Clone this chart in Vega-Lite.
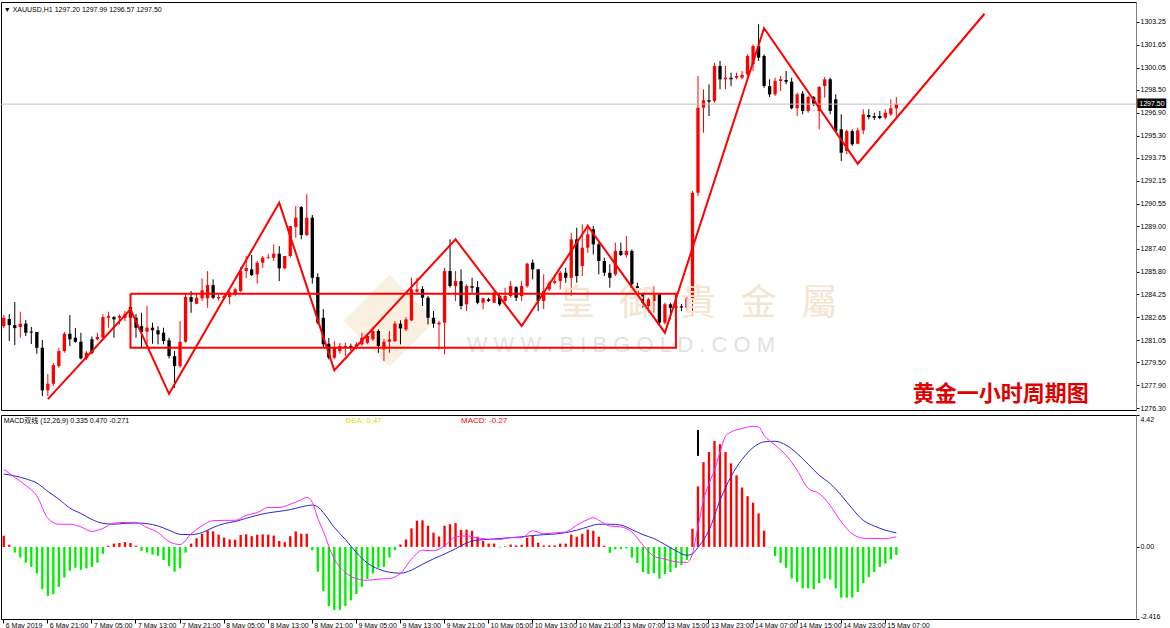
{
"$schema": "https://vega.github.io/schema/vega-lite/v6.json",
"background": "white",
"padding": {"left": 0, "top": 1, "right": 0, "bottom": 0},
"spacing": 2,
"config": {"view": {"stroke": "#000000", "strokeWidth": 1}, "axis": {"labelFont": "Liberation Sans", "labelFontSize": 7, "labelColor": "#000000", "labelOverlap": false}},
"resolve": {"scale": {"x": "shared"}},
"datasets": {
"bars": [
{"t":"6 May 13:00","o":1282.02,"h":1282.79,"l":1281.88,"c":1282.6,"m":0.37,"dif":2.6,"dea":2.44},
{"t":"6 May 14:00","o":1282.51,"h":1282.86,"l":1280.98,"c":1282.09,"m":0.07},
{"t":"6 May 15:00","o":1282.09,"h":1283.7,"l":1280.7,"c":1281.88,"m":-0.19,"dif":2.33,"dea":2.38},
{"t":"6 May 16:00","o":1281.95,"h":1283.02,"l":1281.21,"c":1282.19,"m":-0.36},
{"t":"6 May 17:00","o":1282.19,"h":1282.44,"l":1281.33,"c":1281.56,"m":-0.53,"dif":2.06,"dea":2.28},
{"t":"6 May 18:00","o":1281.64,"h":1281.96,"l":1280.77,"c":1281.57,"m":-0.67},
{"t":"6 May 19:00","o":1281.61,"h":1281.61,"l":1280.09,"c":1280.51,"m":-0.89,"dif":1.71,"dea":2.14},
{"t":"6 May 20:00","o":1280.51,"h":1281.05,"l":1277.14,"c":1277.54,"m":-1.42},
{"t":"6 May 21:00","o":1277.54,"h":1278.68,"l":1277.14,"c":1278.0,"m":-1.64,"dif":0.96,"dea":1.86},
{"t":"6 May 22:00","o":1278.0,"h":1279.46,"l":1277.84,"c":1279.3,"m":-1.58},
{"t":"6 May 23:00","o":1279.23,"h":1280.51,"l":1279.12,"c":1280.28,"m":-1.34,"dif":0.76,"dea":1.6},
{"t":"7 May 00:00","o":1280.28,"h":1281.61,"l":1280.16,"c":1281.49,"m":-1.03},
{"t":"7 May 01:00","o":1281.49,"h":1282.79,"l":1280.63,"c":1281.1,"m":-0.8,"dif":0.76,"dea":1.3},
{"t":"7 May 02:00","o":1281.21,"h":1281.88,"l":1280.86,"c":1280.93,"m":-0.7},
{"t":"7 May 03:00","o":1280.93,"h":1281.56,"l":1279.7,"c":1279.77,"m":-0.77,"dif":0.67,"dea":1.12},
{"t":"7 May 04:00","o":1279.77,"h":1280.28,"l":1279.65,"c":1280.16,"m":-0.72},
{"t":"7 May 05:00","o":1281.1,"h":1281.3,"l":1280.05,"c":1280.16,"m":-0.67,"dif":0.52,"dea":0.92},
{"t":"7 May 06:00","o":1281.1,"h":1281.56,"l":1281.03,"c":1281.26,"m":-0.53},
{"t":"7 May 07:00","o":1281.21,"h":1282.84,"l":1281.19,"c":1282.65,"m":-0.23,"dif":0.62,"dea":0.79},
{"t":"7 May 08:00","o":1282.6,"h":1283.02,"l":1281.91,"c":1282.72,"m":0.04},
{"t":"7 May 09:00","o":1282.65,"h":1282.72,"l":1281.21,"c":1282.49,"m":0.11,"dif":0.8,"dea":0.76},
{"t":"7 May 10:00","o":1282.6,"h":1282.84,"l":1282.14,"c":1282.72,"m":0.13},
{"t":"7 May 11:00","o":1282.6,"h":1283.07,"l":1282.37,"c":1282.88,"m":0.16,"dif":0.82,"dea":0.79},
{"t":"7 May 12:00","o":1283.35,"h":1283.56,"l":1282.51,"c":1282.6,"m":0.13},
{"t":"7 May 13:00","o":1282.6,"h":1282.86,"l":1281.21,"c":1281.91,"m":0.04,"dif":0.82,"dea":0.8},
{"t":"7 May 14:00","o":1282.02,"h":1282.95,"l":1280.51,"c":1281.61,"m":-0.13},
{"t":"7 May 15:00","o":1281.63,"h":1283.42,"l":1280.75,"c":1281.91,"m":-0.19,"dif":0.65,"dea":0.78},
{"t":"7 May 16:00","o":1281.91,"h":1282.26,"l":1280.79,"c":1281.73,"m":-0.26},
{"t":"7 May 17:00","o":1281.73,"h":1282.02,"l":1280.75,"c":1281.45,"m":-0.3,"dif":0.48,"dea":0.7},
{"t":"7 May 18:00","o":1281.56,"h":1281.91,"l":1280.75,"c":1280.98,"m":-0.44},
{"t":"7 May 19:00","o":1281.03,"h":1281.21,"l":1279.77,"c":1279.93,"m":-0.64,"dif":0.18,"dea":0.56},
{"t":"7 May 20:00","o":1279.93,"h":1280.28,"l":1277.72,"c":1279.23,"m":-0.83},
{"t":"7 May 21:00","o":1279.23,"h":1282.37,"l":1279.12,"c":1280.93,"m":-0.72,"dif":0.08,"dea":0.42},
{"t":"7 May 22:00","o":1280.93,"h":1284.24,"l":1280.86,"c":1284.05,"m":-0.19},
{"t":"7 May 23:00","o":1284.05,"h":1284.47,"l":1282.95,"c":1283.72,"m":0.11,"dif":0.44,"dea":0.41},
{"t":"8 May 00:00","o":1283.58,"h":1284.35,"l":1283.54,"c":1284.0,"m":0.29},
{"t":"8 May 01:00","o":1283.96,"h":1285.35,"l":1283.77,"c":1284.51,"m":0.44,"dif":0.71,"dea":0.48},
{"t":"8 May 02:00","o":1283.96,"h":1285.86,"l":1283.3,"c":1284.88,"m":0.56},
{"t":"8 May 03:00","o":1284.88,"h":1285.28,"l":1283.9,"c":1284.0,"m":0.52,"dif":0.88,"dea":0.65},
{"t":"8 May 04:00","o":1283.96,"h":1284.2,"l":1283.8,"c":1284.05,"m":0.41},
{"t":"8 May 05:00","o":1283.96,"h":1284.3,"l":1283.9,"c":1284.12,"m":0.31,"dif":0.89,"dea":0.78},
{"t":"8 May 06:00","o":1284.05,"h":1284.47,"l":1283.54,"c":1284.35,"m":0.25},
{"t":"8 May 07:00","o":1284.24,"h":1284.7,"l":1284.1,"c":1284.58,"m":0.24,"dif":0.89,"dea":0.85},
{"t":"8 May 08:00","o":1284.47,"h":1286.14,"l":1284.4,"c":1285.86,"m":0.4},
{"t":"8 May 09:00","o":1285.86,"h":1286.91,"l":1285.37,"c":1286.07,"m":0.42,"dif":1.06,"dea":0.96},
{"t":"8 May 10:00","o":1285.98,"h":1286.98,"l":1285.51,"c":1285.58,"m":0.36},
{"t":"8 May 11:00","o":1285.63,"h":1286.56,"l":1284.98,"c":1286.44,"m":0.41,"dif":1.15,"dea":1.06},
{"t":"8 May 12:00","o":1286.44,"h":1286.91,"l":1286.09,"c":1286.79,"m":0.42},
{"t":"8 May 13:00","o":1286.79,"h":1287.05,"l":1286.7,"c":1286.84,"m":0.41,"dif":1.32,"dea":1.14},
{"t":"8 May 14:00","o":1286.79,"h":1287.72,"l":1286.56,"c":1287.07,"m":0.38},
{"t":"8 May 15:00","o":1287.07,"h":1287.6,"l":1285.16,"c":1286.05,"m":0.2,"dif":1.32,"dea":1.19},
{"t":"8 May 16:00","o":1286.05,"h":1286.91,"l":1285.98,"c":1286.91,"m":0.16},
{"t":"8 May 17:00","o":1286.91,"h":1289.0,"l":1286.79,"c":1289.0,"m":0.36,"dif":1.43,"dea":1.25},
{"t":"8 May 18:00","o":1288.93,"h":1290.39,"l":1288.18,"c":1289.58,"m":0.52},
{"t":"8 May 19:00","o":1290.32,"h":1290.39,"l":1288.07,"c":1288.37,"m":0.44,"dif":1.58,"dea":1.34},
{"t":"8 May 20:00","o":1288.37,"h":1291.21,"l":1288.3,"c":1289.58,"m":0.44,"dif":1.66},
{"t":"8 May 21:00","o":1289.58,"h":1289.77,"l":1284.98,"c":1285.39,"m":-0.11,"dif":1.49,"dea":1.4},
{"t":"8 May 22:00","o":1285.44,"h":1285.7,"l":1282.14,"c":1282.26,"m":-0.83,"dif":0.96,"dea":1.34},
{"t":"8 May 23:00","o":1282.6,"h":1283.21,"l":1280.51,"c":1280.75,"m":-1.48,"dif":0.52,"dea":1.15},
{"t":"9 May 00:00","o":1280.79,"h":1281.19,"l":1279.7,"c":1279.82,"m":-1.98},
{"t":"9 May 01:00","o":1279.82,"h":1280.98,"l":1279.7,"c":1280.51,"m":-2.11,"dif":-0.41,"dea":0.65},
{"t":"9 May 02:00","o":1280.28,"h":1280.84,"l":1280.1,"c":1280.63,"m":-2.11},
{"t":"9 May 03:00","o":1280.51,"h":1280.86,"l":1279.93,"c":1280.63,"m":-1.98,"dif":-0.86,"dea":0.25},
{"t":"9 May 04:00","o":1280.63,"h":1280.8,"l":1280.3,"c":1280.51,"m":-1.79},
{"t":"9 May 05:00","o":1280.63,"h":1280.9,"l":1280.4,"c":1280.75,"m":-1.58,"dif":-1.06,"dea":-0.19},
{"t":"9 May 06:00","o":1280.75,"h":1281.56,"l":1280.63,"c":1281.21,"m":-1.34},
{"t":"9 May 07:00","o":1280.86,"h":1281.54,"l":1280.77,"c":1281.33,"m":-1.08,"dif":-1.12,"dea":-0.54},
{"t":"9 May 08:00","o":1281.1,"h":1281.91,"l":1280.98,"c":1281.68,"m":-0.89},
{"t":"9 May 09:00","o":1281.68,"h":1281.79,"l":1280.16,"c":1280.63,"m":-0.7,"dif":-1.08,"dea":-0.74},
{"t":"9 May 10:00","o":1280.4,"h":1281.12,"l":1279.58,"c":1280.93,"m":-0.67},
{"t":"9 May 11:00","o":1280.93,"h":1281.68,"l":1280.16,"c":1281.1,"m":-0.36,"dif":-1.06,"dea":-0.85},
{"t":"9 May 12:00","o":1280.98,"h":1282.37,"l":1280.91,"c":1282.19,"m":-0.11},
{"t":"9 May 13:00","o":1282.19,"h":1282.42,"l":1280.75,"c":1281.86,"m":0.08,"dif":-0.89,"dea":-0.88},
{"t":"9 May 14:00","o":1281.79,"h":1282.65,"l":1281.68,"c":1282.49,"m":0.25},
{"t":"9 May 15:00","o":1282.42,"h":1285.39,"l":1282.37,"c":1284.58,"m":0.62,"dif":-0.41,"dea":-0.78},
{"t":"9 May 16:00","o":1284.42,"h":1285.39,"l":1284.35,"c":1284.58,"m":0.88},
{"t":"9 May 17:00","o":1284.61,"h":1284.81,"l":1283.42,"c":1284.0,"m":0.89,"dif":-0.11,"dea":-0.58},
{"t":"9 May 18:00","o":1284.0,"h":1284.12,"l":1282.14,"c":1282.6,"m":0.71},
{"t":"9 May 19:00","o":1282.6,"h":1283.07,"l":1281.91,"c":1282.19,"m":0.48,"dif":-0.13,"dea":-0.4},
{"t":"9 May 20:00","o":1282.14,"h":1282.37,"l":1280.4,"c":1282.26,"m":0.35},
{"t":"9 May 21:00","o":1282.26,"h":1286.09,"l":1280.05,"c":1285.86,"m":0.71,"dif":0.04,"dea":-0.24},
{"t":"9 May 22:00","o":1285.86,"h":1288.07,"l":1284.7,"c":1284.81,"m":0.76},
{"t":"9 May 23:00","o":1284.81,"h":1285.86,"l":1283.77,"c":1285.16,"m":0.8,"dif":0.33,"dea":-0.06},
{"t":"10 May 00:00","o":1285.16,"h":1285.98,"l":1283.19,"c":1283.42,"m":0.57},
{"t":"10 May 01:00","o":1283.54,"h":1284.93,"l":1283.07,"c":1284.81,"m":0.58,"dif":0.37,"dea":0.13},
{"t":"10 May 02:00","o":1284.81,"h":1285.39,"l":1284.35,"c":1284.7,"m":0.54},
{"t":"10 May 03:00","o":1284.74,"h":1285.16,"l":1283.54,"c":1283.65,"m":0.34,"dif":0.3,"dea":0.23},
{"t":"10 May 04:00","o":1283.65,"h":1284.0,"l":1283.19,"c":1283.96,"m":0.2},
{"t":"10 May 05:00","o":1283.89,"h":1284.0,"l":1283.7,"c":1283.77,"m":0.11,"dif":0.26,"dea":0.25},
{"t":"10 May 06:00","o":1283.65,"h":1284.47,"l":1283.63,"c":1284.35,"m":0.11},
{"t":"10 May 07:00","o":1284.12,"h":1284.35,"l":1283.42,"c":1283.54,"m":-0.02,"dif":0.25,"dea":0.28},
{"t":"10 May 08:00","o":1283.77,"h":1284.7,"l":1283.65,"c":1284.12,"m":0.02},
{"t":"10 May 09:00","o":1284.12,"h":1285.16,"l":1284.0,"c":1284.81,"m":0.08,"dif":0.31,"dea":0.31},
{"t":"10 May 10:00","o":1284.74,"h":1284.81,"l":1283.77,"c":1284.0,"m":0.05},
{"t":"10 May 11:00","o":1284.12,"h":1285.16,"l":1283.77,"c":1284.81,"m":0.07,"dif":0.31,"dea":0.34},
{"t":"10 May 12:00","o":1284.81,"h":1286.44,"l":1284.7,"c":1286.37,"m":0.31},
{"t":"10 May 13:00","o":1286.44,"h":1286.67,"l":1285.28,"c":1285.98,"m":0.38,"dif":0.54,"dea":0.38},
{"t":"10 May 14:00","o":1285.98,"h":1285.98,"l":1283.07,"c":1283.77,"m":0.14},
{"t":"10 May 15:00","o":1283.77,"h":1285.63,"l":1283.19,"c":1284.47,"m":0.05,"dif":0.44,"dea":0.41},
{"t":"10 May 16:00","o":1284.58,"h":1285.16,"l":1284.47,"c":1285.04,"m":0.05},
{"t":"10 May 17:00","o":1285.04,"h":1285.63,"l":1284.93,"c":1285.16,"m":0.05,"dif":0.47,"dea":0.43},
{"t":"10 May 18:00","o":1285.16,"h":1285.86,"l":1284.58,"c":1285.74,"m":0.11},
{"t":"10 May 19:00","o":1285.74,"h":1286.09,"l":1285.04,"c":1285.39,"m":0.11,"dif":0.5,"dea":0.48},
{"t":"10 May 20:00","o":1285.39,"h":1288.53,"l":1284.12,"c":1288.07,"m":0.41},
{"t":"10 May 21:00","o":1288.07,"h":1288.88,"l":1285.04,"c":1285.51,"m":0.34,"dif":0.73,"dea":0.56},
{"t":"10 May 22:00","o":1286.21,"h":1289.12,"l":1285.51,"c":1287.49,"m":0.44},
{"t":"13 May 01:00","o":1287.49,"h":1289.12,"l":1287.12,"c":1288.42,"m":0.58,"dif":0.92,"dea":0.67},
{"t":"13 May 02:00","o":1288.77,"h":1289.0,"l":1287.02,"c":1287.72,"m":0.54,"dif":0.98},
{"t":"13 May 03:00","o":1287.72,"h":1287.84,"l":1285.63,"c":1286.56,"m":0.34,"dif":0.89,"dea":0.76},
{"t":"13 May 04:00","o":1286.56,"h":1286.79,"l":1285.51,"c":1285.74,"m":0.04},
{"t":"13 May 05:00","o":1285.74,"h":1286.33,"l":1284.7,"c":1285.39,"m":-0.2,"dif":0.7,"dea":0.76},
{"t":"13 May 06:00","o":1285.63,"h":1287.84,"l":1285.51,"c":1287.26,"m":-0.08},
{"t":"13 May 07:00","o":1287.26,"h":1287.84,"l":1286.91,"c":1286.98,"m":-0.07,"dif":0.67,"dea":0.73},
{"t":"13 May 08:00","o":1286.98,"h":1288.3,"l":1286.79,"c":1287.26,"m":-0.05},
{"t":"13 May 09:00","o":1287.26,"h":1287.37,"l":1284.47,"c":1284.7,"m":-0.36,"dif":0.5,"dea":0.58},
{"t":"13 May 10:00","o":1284.81,"h":1285.05,"l":1283.65,"c":1284.35,"m":-0.54},
{"t":"13 May 11:00","o":1284.24,"h":1284.35,"l":1283.3,"c":1283.65,"m":-0.84,"dif":0.06,"dea":0.41},
{"t":"13 May 12:00","o":1283.42,"h":1284.0,"l":1282.95,"c":1283.89,"m":-0.91},
{"t":"13 May 13:00","o":1283.77,"h":1284.81,"l":1282.95,"c":1284.24,"m":-0.88,"dif":-0.31,"dea":0.28},
{"t":"13 May 14:00","o":1284.24,"h":1284.24,"l":1282.14,"c":1282.26,"m":-1.06},
{"t":"13 May 15:00","o":1282.26,"h":1283.65,"l":1282.14,"c":1283.54,"m":-0.91,"dif":-0.41,"dea":0.08},
{"t":"13 May 16:00","o":1283.54,"h":1283.65,"l":1282.49,"c":1283.3,"m":-0.84},
{"t":"13 May 17:00","o":1283.4,"h":1283.77,"l":1282.14,"c":1283.3,"m":-0.7,"dif":-0.5,"dea":-0.13},
{"t":"13 May 18:00","o":1283.4,"h":1283.56,"l":1283.07,"c":1283.31,"m":-0.61},
{"t":"13 May 19:00","o":1283.3,"h":1284.12,"l":1283.07,"c":1283.96,"m":-0.44,"dif":-0.52,"dea":-0.28},
{"t":"13 May 20:00","o":1283.96,"h":1291.44,"l":1282.72,"c":1291.32,"m":0.61,"dif":-0.23,"dea":-0.23},
{"t":"13 May 21:00","o":1291.32,"h":1299.46,"l":1291.09,"c":1297.25,"m":2.03,"dif":0.67,"dea":-0.02},
{"t":"13 May 22:00","o":1297.25,"h":1298.53,"l":1295.51,"c":1297.77,"m":2.84,"dif":1.56},
{"t":"13 May 23:00","o":1297.77,"h":1298.88,"l":1296.67,"c":1297.67,"m":3.18,"dif":2.12,"dea":0.56},
{"t":"14 May 00:00","o":1297.72,"h":1300.39,"l":1297.6,"c":1300.16,"m":3.55,"dif":2.57},
{"t":"14 May 01:00","o":1300.16,"h":1300.51,"l":1298.53,"c":1299.23,"m":3.44,"dif":3.18,"dea":1.56},
{"t":"14 May 02:00","o":1299.23,"h":1300.16,"l":1298.53,"c":1299.34,"m":3.18,"dif":3.71},
{"t":"14 May 03:00","o":1299.34,"h":1299.69,"l":1298.76,"c":1299.23,"m":2.8,"dif":3.85,"dea":2.36},
{"t":"14 May 04:00","o":1299.34,"h":1299.69,"l":1299.23,"c":1299.46,"m":2.4},
{"t":"14 May 05:00","o":1299.34,"h":1299.81,"l":1299.23,"c":1299.53,"m":1.99,"dif":3.97,"dea":2.93},
{"t":"14 May 06:00","o":1299.58,"h":1300.97,"l":1299.46,"c":1300.86,"m":1.7},
{"t":"14 May 07:00","o":1300.28,"h":1301.67,"l":1299.81,"c":1301.55,"m":1.48,"dif":4.04,"dea":3.33},
{"t":"14 May 08:00","o":1301.55,"h":1303.07,"l":1300.51,"c":1300.74,"m":1.12,"dif":4.02},
{"t":"14 May 09:00","o":1300.86,"h":1300.97,"l":1298.64,"c":1298.76,"m":0.54,"dif":3.74,"dea":3.52},
{"t":"14 May 10:00","o":1298.76,"h":1299.23,"l":1297.99,"c":1298.18,"m":-0.02},
{"t":"14 May 11:00","o":1298.18,"h":1299.34,"l":1298.07,"c":1299.11,"m":-0.31,"dif":3.41,"dea":3.54},
{"t":"14 May 12:00","o":1299.11,"h":1299.46,"l":1298.41,"c":1299.23,"m":-0.54},
{"t":"14 May 13:00","o":1299.18,"h":1299.81,"l":1298.88,"c":1299.06,"m":-0.7,"dif":3.07,"dea":3.41},
{"t":"14 May 14:00","o":1299.06,"h":1299.34,"l":1297.14,"c":1297.21,"m":-1.06},
{"t":"14 May 15:00","o":1297.21,"h":1298.3,"l":1296.67,"c":1298.18,"m":-1.18,"dif":2.57,"dea":3.13},
{"t":"14 May 16:00","o":1298.23,"h":1298.41,"l":1296.79,"c":1297.02,"m":-1.39},
{"t":"14 May 17:00","o":1297.02,"h":1298.07,"l":1296.9,"c":1297.99,"m":-1.39,"dif":1.96,"dea":2.77},
{"t":"14 May 18:00","o":1297.99,"h":1298.07,"l":1297.37,"c":1297.53,"m":-1.42},
{"t":"14 May 19:00","o":1297.02,"h":1298.76,"l":1295.74,"c":1298.69,"m":-1.22,"dif":1.79,"dea":2.4},
{"t":"14 May 20:00","o":1298.76,"h":1299.39,"l":1297.95,"c":1299.23,"m":-1.06},
{"t":"14 May 21:00","o":1299.23,"h":1299.34,"l":1296.79,"c":1297.02,"m":-1.09,"dif":1.39,"dea":2.12},
{"t":"14 May 22:00","o":1297.83,"h":1298.18,"l":1295.51,"c":1295.62,"m":-1.39},
{"t":"14 May 23:00","o":1295.74,"h":1296.79,"l":1293.53,"c":1294.11,"m":-1.7,"dif":0.84,"dea":1.73},
{"t":"15 May 00:00","o":1294.23,"h":1295.74,"l":1294.0,"c":1295.62,"m":-1.7},
{"t":"15 May 01:00","o":1295.62,"h":1295.74,"l":1294.58,"c":1294.7,"m":-1.7,"dif":0.44,"dea":1.28},
{"t":"15 May 02:00","o":1294.74,"h":1295.86,"l":1294.7,"c":1295.67,"m":-1.51},
{"t":"15 May 03:00","o":1295.67,"h":1297.14,"l":1295.39,"c":1296.79,"m":-1.22,"dif":0.29,"dea":0.89},
{"t":"15 May 04:00","o":1296.74,"h":1297.14,"l":1296.44,"c":1296.6,"m":-1.01},
{"t":"15 May 05:00","o":1296.67,"h":1296.9,"l":1296.4,"c":1296.55,"m":-0.84,"dif":0.28,"dea":0.7},
{"t":"15 May 06:00","o":1296.67,"h":1297.02,"l":1296.44,"c":1296.53,"m":-0.67},
{"t":"15 May 07:00","o":1296.55,"h":1297.14,"l":1296.44,"c":1296.9,"m":-0.56,"dif":0.28,"dea":0.56},
{"t":"15 May 08:00","o":1296.79,"h":1297.83,"l":1296.67,"c":1297.21,"m":-0.42},
{"t":"15 May 09:00","o":1297.2,"h":1297.99,"l":1296.57,"c":1297.5,"m":-0.27,"dif":0.335,"dea":0.47},
{"t":"15 May 10:00"},{"t":"15 May 11:00"},{"t":"15 May 12:00"},{"t":"15 May 13:00"},{"t":"15 May 14:00"},{"t":"15 May 15:00"},{"t":"15 May 16:00"},
{"t":"15 May 17:00"},{"t":"15 May 18:00"},{"t":"15 May 19:00"},{"t":"15 May 20:00"},{"t":"15 May 21:00"},{"t":"15 May 22:00"},{"t":"15 May 23:00"},
{"t":"16 May 00:00"},{"t":"16 May 01:00"},{"t":"16 May 02:00"},{"t":"16 May 03:00"},{"t":"16 May 04:00"},{"t":"16 May 05:00"},{"t":"16 May 06:00"},{"t":"16 May 07:00"},
{"t":"16 May 08:00"},{"t":"16 May 09:00"},{"t":"16 May 10:00"},{"t":"16 May 11:00"},{"t":"16 May 12:00"},{"t":"16 May 13:00"},{"t":"16 May 14:00"},{"t":"16 May 15:00"},
{"t":"16 May 16:00"},{"t":"16 May 17:00"},{"t":"16 May 18:00"},{"t":"16 May 19:00"},{"t":"16 May 20:00"},{"t":"16 May 21:00"},{"t":"16 May 22:00"},{"t":"16 May 23:00"},
{"t":"17 May 00:00"},{"t":"17 May 01:00"},{"t":"17 May 02:00"},{"t":"17 May 03:00"},{"t":"17 May 04:00"}
],
"zigzag": [
{"t":"6 May 21:00","p":1276.93},{"t":"7 May 12:00","p":1283.19},{"t":"7 May 19:00","p":1277.3},{"t":"8 May 15:00","p":1290.62},
{"t":"9 May 01:00","p":1278.94},{"t":"9 May 23:00","p":1288.07},{"t":"10 May 11:00","p":1282.03},{"t":"13 May 01:00","p":1289.0},
{"t":"13 May 15:00","p":1281.56},{"t":"14 May 09:00","p":1302.79},{"t":"15 May 02:00","p":1293.34},{"t":"16 May 01:00","p":1303.8}
],
"box": [
{"t":"7 May 12:00","p":1284.28},{"t":"13 May 17:00","p":1284.28},{"t":"13 May 17:00","p":1280.51},{"t":"7 May 12:00","p":1280.51},{"t":"7 May 12:00","p":1284.28}
]
},
"vconcat": [
{
"width": 1135, "height": 408,
"layer": [
{"data": {"name": "bars"},
 "mark": {"type": "tick", "opacity": 0},
 "encoding": {
  "x": {"field": "t", "type": "ordinal", "sort": null, "title": null, "axis": null, "scale": {"type": "band", "paddingInner": 0, "paddingOuter": 0}},
  "y": {"datum": 1290, "type": "quantitative", "title": null, "scale": {"domain": [1276.17, 1304.62], "nice": false, "zero": false},
        "axis": {"orient": "right", "values": [1276.3,1277.9,1279.5,1281.05,1282.65,1284.25,1285.8,1287.4,1289,1290.55,1292.15,1293.75,1295.3,1296.9,1298.5,1300.05,1301.65,1303.25], "tickCount": 40, "format": ".2f", "tickSize": 3, "tickColor": "#000000", "labelPadding": 1, "labelAlign": "left", "labelBaseline": "middle", "domainColor": "#808080", "grid": false, "labelOverlap": false}}
 }},
{"data": {"values": [{"t": "9 May 11:00", "p": 1282.72, "s": "◆"}]},
 "mark": {"type": "text", "font": "DejaVu Sans", "fontSize": 120, "color": "#f9f0e2", "align": "center", "baseline": "middle"},
 "encoding": {"x": {"field": "t", "type": "ordinal", "sort": null, "title": null}, "y": {"field": "p", "type": "quantitative", "title": null}, "text": {"field": "s"}}},
{"data": {"name": "bars"}, "transform": [{"filter": "isValid(datum.o)"}],
 "mark": {"type": "rule", "strokeWidth": 1},
 "encoding": {
  "x": {"field": "t", "type": "ordinal", "sort": null, "title": null},
  "y": {"field": "l", "type": "quantitative", "title": null},
  "y2": {"field": "h"},
  "color": {"condition": {"test": "datum.c >= datum.o", "value": "#ff0000"}, "value": "#000000"}
 }},
{"data": {"name": "bars"}, "transform": [{"filter": "isValid(datum.o)"}],
 "mark": {"type": "bar", "width": {"band": 0.6}},
 "encoding": {
  "x": {"field": "t", "type": "ordinal", "sort": null, "title": null},
  "y": {"field": "o", "type": "quantitative", "title": null},
  "y2": {"field": "c"},
  "color": {"condition": {"test": "datum.c >= datum.o", "value": "#ff0000"}, "value": "#000000"}
 }},
{"data": {"values": [{}]}, "mark": {"type": "rule", "color": "#c0c0c0", "strokeWidth": 1},
 "encoding": {"y": {"datum": 1297.5, "type": "quantitative", "title": null}}},
{"data": {"values": [
   {"t": "10 May 21:00", "p": 1283.56, "s": "皇"}, {"t": "13 May 10:00", "p": 1283.56, "s": "御"},
   {"t": "13 May 21:00", "p": 1283.56, "s": "貴"}, {"t": "14 May 08:00", "p": 1283.56, "s": "金"},
   {"t": "14 May 19:00", "p": 1283.56, "s": "屬"}]},
 "mark": {"type": "text", "font": "Noto Sans CJK TC", "fontSize": 36, "color": "#f3e6d0", "align": "center", "baseline": "middle"},
 "encoding": {"x": {"field": "t", "type": "ordinal", "sort": null, "title": null}, "y": {"field": "p", "type": "quantitative", "title": null}, "text": {"field": "s"}}},
{"data": {"values": [{"t": "13 May 07:00", "p": 1280.7, "s": "W W W . B I B G O L D . C O M"}]},
 "mark": {"type": "text", "font": "Liberation Sans", "fontSize": 22, "color": "#e2e2e2", "align": "center", "baseline": "middle"},
 "encoding": {"x": {"field": "t", "type": "ordinal", "sort": null, "title": null}, "y": {"field": "p", "type": "quantitative", "title": null}, "text": {"field": "s"}}},
{"data": {"name": "box"},
 "mark": {"type": "line", "color": "#ff0000", "strokeWidth": 2},
 "encoding": {"x": {"field": "t", "type": "ordinal", "sort": null, "title": null}, "y": {"field": "p", "type": "quantitative", "title": null}, "order": {"value": null}}},
{"data": {"name": "zigzag"},
 "mark": {"type": "line", "color": "#ff0000", "strokeWidth": 2},
 "encoding": {"x": {"field": "t", "type": "ordinal", "sort": null, "title": null}, "y": {"field": "p", "type": "quantitative", "title": null}, "order": {"value": null}}},
{"data": {"values": [{"t": "6 May 13:00", "p": 1304.06, "s": "▼ XAUUSD,H1  1297.20 1297.99 1296.57 1297.50"}]},
 "mark": {"type": "text", "font": "Liberation Sans", "fontSize": 7, "color": "#000000", "align": "left", "baseline": "middle"},
 "encoding": {"x": {"field": "t", "type": "ordinal", "sort": null, "title": null}, "y": {"field": "p", "type": "quantitative", "title": null}, "text": {"field": "s"}}},
{"data": {"values": [{"t": "15 May 12:00", "p": 1277.28, "s": "黄金一小时周期图"}]},
 "mark": {"type": "text", "font": "Noto Sans CJK SC", "fontSize": 22, "fontWeight": "bold", "color": "#e00000", "align": "left", "baseline": "middle"},
 "encoding": {"x": {"field": "t", "type": "ordinal", "sort": null, "title": null}, "y": {"field": "p", "type": "quantitative", "title": null}, "text": {"field": "s"}}},
{"data": {"values": [{"t": "17 May 04:00", "p": 1297.5, "s": "██████"}]},
 "mark": {"type": "text", "font": "DejaVu Sans Mono", "fontSize": 8, "color": "#000000", "align": "left", "baseline": "middle", "dx": 4},
 "encoding": {"x": {"field": "t", "type": "ordinal", "sort": null, "title": null}, "y": {"field": "p", "type": "quantitative", "title": null}, "text": {"field": "s"}}},
{"data": {"values": [{"t": "17 May 04:00", "p": 1297.5, "s": "1297.50"}]},
 "mark": {"type": "text", "font": "Liberation Sans", "fontSize": 7, "color": "#ffffff", "align": "left", "baseline": "middle", "dx": 6},
 "encoding": {"x": {"field": "t", "type": "ordinal", "sort": null, "title": null}, "y": {"field": "p", "type": "quantitative", "title": null}, "text": {"field": "s"}}}
]
},
{
"width": 1135, "height": 204,
"layer": [
{"data": {"name": "bars"}, "transform": [{"filter": "isValid(datum.m)"}],
 "mark": {"type": "bar", "width": {"band": 0.42}},
 "encoding": {
  "x": {"field": "t", "type": "ordinal", "sort": null, "title": null, "scale": {"type": "band", "paddingInner": 0, "paddingOuter": 0},
        "axis": {"values": ["6 May 13:00","6 May 21:00","7 May 05:00","7 May 13:00","7 May 21:00","8 May 05:00","8 May 13:00","8 May 21:00","9 May 05:00","9 May 13:00","9 May 21:00","10 May 05:00","10 May 13:00","10 May 21:00","13 May 07:00","13 May 15:00","13 May 23:00","14 May 07:00","14 May 15:00","14 May 23:00","15 May 07:00"],
                 "labelExpr": "datum.value == '6 May 13:00' ? '6 May 2019' : datum.value", "labelAlign": "left", "labelBaseline": "top", "labelAngle": 0, "tickSize": 4, "labelPadding": -2, "labelOffset": 2, "labelOverlap": false, "domainColor": "#000000", "tickColor": "#000000", "grid": false}},
  "y": {"field": "m", "type": "quantitative", "title": null, "scale": {"domain": [-2.416, 4.42], "nice": false, "zero": false},
        "axis": {"orient": "right", "values": [4.42, 0, -2.416], "tickCount": 10, "labelExpr": "datum.value == 0 ? '0.00' : (datum.value > 0 ? '4.42' : '-2.416')", "labelFlush": true, "tickSize": 3, "labelPadding": 1, "labelAlign": "left", "tickColor": "#000000", "domainColor": "#808080", "grid": false}},
  "y2": {"datum": 0},
  "color": {"condition": {"test": "datum.m >= 0", "value": "#ff0000"}, "value": "#00ee00"}
 }},
{"data": {"name": "bars"}, "transform": [{"filter": "isValid(datum.dea)"}],
 "mark": {"type": "line", "color": "#2828d8", "strokeWidth": 1, "interpolate": "monotone"},
 "encoding": {"x": {"field": "t", "type": "ordinal", "sort": null, "title": null}, "y": {"field": "dea", "type": "quantitative", "title": null}, "order": {"value": null}}},
{"data": {"name": "bars"}, "transform": [{"filter": "isValid(datum.dif)"}],
 "mark": {"type": "line", "color": "#ff22ff", "strokeWidth": 1, "interpolate": "monotone"},
 "encoding": {"x": {"field": "t", "type": "ordinal", "sort": null, "title": null}, "y": {"field": "dif", "type": "quantitative", "title": null}, "order": {"value": null}}},
{"data": {"values": [{"t": "13 May 21:00", "v1": 3.92, "v2": 3.05}]},
 "mark": {"type": "rule", "color": "#000000", "strokeWidth": 2},
 "encoding": {"x": {"field": "t", "type": "ordinal", "sort": null, "title": null}, "y": {"field": "v1", "type": "quantitative", "title": null}, "y2": {"field": "v2"}}},
{"data": {"values": [{"t": "6 May 13:00", "v": 4.22, "s": "MACD双线 (12,26,9) 0.335 0.470 -0.271"}]},
 "mark": {"type": "text", "font": "Liberation Sans, Noto Sans CJK SC", "fontSize": 7, "color": "#000000", "align": "left", "baseline": "middle"},
 "encoding": {"x": {"field": "t", "type": "ordinal", "sort": null, "title": null}, "y": {"field": "v", "type": "quantitative", "title": null}, "text": {"field": "s"}}},
{"data": {"values": [{"t": "9 May 03:00", "v": 4.22, "s": "DEA:    0.47"}]},
 "mark": {"type": "text", "font": "Liberation Sans", "fontSize": 8, "color": "#e6d800", "align": "left", "baseline": "middle"},
 "encoding": {"x": {"field": "t", "type": "ordinal", "sort": null, "title": null}, "y": {"field": "v", "type": "quantitative", "title": null}, "text": {"field": "s"}}},
{"data": {"values": [{"t": "10 May 00:00", "v": 4.22, "s": "MACD:    -0.27"}]},
 "mark": {"type": "text", "font": "Liberation Sans", "fontSize": 8, "color": "#ff0000", "align": "left", "baseline": "middle"},
 "encoding": {"x": {"field": "t", "type": "ordinal", "sort": null, "title": null}, "y": {"field": "v", "type": "quantitative", "title": null}, "text": {"field": "s"}}}
]
}
]
}
